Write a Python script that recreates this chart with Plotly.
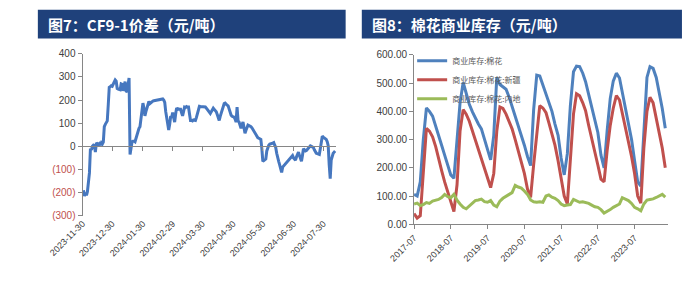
import pandas as pd
import plotly.graph_objects as go

# ---- CF9-1 spread (daily, yuan/ton) ----
spread_values = [
    -190, -215, -200, -212, -195, -150, -115, -10, -15, 0,
    5, 2, -25, 15, 10, 8, 12, 5, 15, 10,
    18, 85, 95, 105, 110, 180, 255, 258, 262, 260,
    270, 278, 287, 282, 250, 248, 245, 245, 270, 268,
    240, 255, 280, 240, 235, 265, 296, -35, -10, 20,
    22, 23, 20, 35, 55, 64, 78, 85, 120, 160,
    187, 165, 132, 150, 166, 175, 194, 185, 190, 195,
    196, 197, 198, 199, 200, 201, 202, 203, 204, 205,
    205, 200, 190, 150, 119, 100, 71, 95, 130, 125,
    146, 125, 105, 140, 166, 160, 162, 160, 160, 145,
    132, 150, 170, 168, 172, 170, 170, 140, 112, 112,
    110, 114, 112, 112, 125, 140, 160, 173, 172, 171,
    170, 172, 171, 170, 165, 158, 150, 145, 142, 150,
    160, 165, 160, 155, 150, 138, 120, 112, 130, 145,
    155, 170, 185, 187, 180, 178, 175, 160, 145, 135,
    130, 128, 126, 118, 105, 170, 110, 105, 85, 78,
    95, 105, 80, 57, 70, 85, 92, 90, 88, 85,
    80, 72, 64, 58, 50, 42, 37, 35, 32, 30,
    -10, -65, -62, -58, -55, -20, -5, 5, 10, 10,
    12, 14, 16, 5, -5, -30, -55, -65, -80, -100,
    -113, -90, -85, -80, -75, -72, -65, -58, -52, -48,
    -44, -40, -50, -55, -60, -45, -35, -25, -40, -55,
    -65, -40, -10, -15, -20, -18, -12, -5, 0, 2,
    0, -3, -5, -15, -25, -30, -32, -33, -35, -10,
    30, 44, 40, 36, 32, 30, 20, 3, -80, -140,
    -60, -40, -30, -25, -20,
]
spread_dates = pd.date_range("2023-12-01", periods=len(spread_values), freq="D")
spread_xticks = ["2023-11-30", "2023-12-30", "2024-01-30", "2024-02-29", "2024-03-30",
                 "2024-04-30", "2024-05-30", "2024-06-30", "2024-07-30"]
spread_xrange = ["2023-11-30", "2024-08-12"]
spread_yticks = [400, 300, 200, 100, 0, -100, -200, -300]

# ---- Cotton commercial inventory (monthly) ----
stock_total = [
    106, 100, 150, 300, 412, 400, 383, 350, 315, 280,
    245, 210, 175, 163, 300, 430, 502, 460, 425, 398,
    375, 355, 338, 300, 264, 228, 315, 520, 495, 485,
    478, 450, 418, 385, 350, 321, 280, 240, 208, 405,
    528, 525, 492, 462, 430, 400, 355, 315, 235, 175,
    250, 420, 540, 560, 558, 535, 505, 460, 415, 370,
    325, 245, 200, 330, 445, 507, 535, 518, 470, 415,
    355, 300, 225, 150, 135, 330, 520, 558, 552, 520,
    470, 410, 340,
]
stock_xinjiang = [
    38, 22, 30, 200, 340, 330, 310, 275, 230, 190,
    150, 115, 80, 45, 140, 330, 406, 390, 365, 330,
    298, 265, 230, 200, 168, 130, 180, 330, 415, 410,
    390, 365, 338, 300, 260, 220, 180, 125, 95, 210,
    330, 420, 412, 395, 360, 320, 280, 225, 170, 100,
    72, 250, 390, 462, 455, 430, 402, 350, 300, 255,
    210, 160, 150, 260, 350, 411, 456, 440, 395, 345,
    295, 240, 180, 100, 75, 270, 400, 450, 430, 375,
    330, 270, 200,
]
stock_inland = [
    72, 75, 66, 70, 77, 74, 82, 85, 88, 95,
    106, 98, 94, 106, 85, 72, 60, 55, 64, 75,
    84, 86, 89, 80, 78, 84, 68, 62, 82, 92,
    100, 106, 112, 138, 132, 128, 118, 106, 86, 80,
    78, 80, 78, 100, 104, 96, 92, 84, 72, 66,
    68, 70, 88, 84, 78, 80, 78, 74, 68, 62,
    60, 52, 40, 45, 52, 60, 66, 72, 94, 90,
    84, 74, 60, 55, 48, 72, 86, 88, 90, 95,
    100, 106, 96,
]
stock_months = pd.date_range("2017-07-01", periods=len(stock_total), freq="MS")
stock_names = ["商业库存:棉花", "商业库存:棉花:新疆", "商业库存:棉花:内地"]
stock_colors = ["#4F81BD", "#C0504D", "#9BBB59"]
stock_xticks = ["2017-07-01", "2018-07-01", "2019-07-01", "2020-07-01",
                "2021-07-01", "2022-07-01", "2023-07-01"]
stock_xrange = ["2017-07-01", "2024-05-25"]
stock_yticks = [0, 100, 200, 300, 400, 500, 600]

titles = ["图7：CF9-1价差（元/吨）", "图8：棉花商业库存（元/吨）"]

W, H = 700, 282
AXIS = "#868686"
TXT = "#404040"
NEG = "#C0504D"
BAR = "#1F417B"
FONT = "Liberation Sans, Arial, sans-serif"
CJK = "Noto Sans CJK SC"


def px_x(p):
    return p / W


def px_y(p):
    return 1 - p / H


left_dom_x = [px_x(50), px_x(317)]
left_dom_y = [px_y(219), px_y(50)]
right_dom_x = [px_x(399), px_x(666)]
right_dom_y = [px_y(228), px_y(51)]
spread_yrange = [min(spread_yticks), max(spread_yticks)]
stock_yrange = [min(stock_yticks), max(stock_yticks)]

# paper position of the value-zero line on the spread panel
zero_pos = left_dom_y[0] + (0 - spread_yrange[0]) / (spread_yrange[1] - spread_yrange[0]) * (
    left_dom_y[1] - left_dom_y[0])


def neg_label(v):
    if v < 0:
        return f'<span style="color:{NEG}">({abs(v)})</span>'
    return str(v)


fig = go.Figure()

# empty carrier so the zero-line category axis is drawn
fig.add_trace(go.Scatter(x=[], y=[], xaxis="x3", yaxis="y", showlegend=False,
                         hoverinfo="skip"))

fig.add_trace(go.Scatter(
    x=spread_dates, y=spread_values, mode="lines",
    line=dict(color="#4677BF", width=3), xaxis="x", yaxis="y",
    showlegend=False,
))

for name, vals, col in zip(stock_names, [stock_total, stock_xinjiang, stock_inland], stock_colors):
    fig.add_trace(go.Scatter(
        x=stock_months, y=vals, mode="lines", name=name,
        line=dict(color=col, width=3), xaxis="x2", yaxis="y2",
    ))

tick_font = dict(family=FONT, size=10, color=TXT)

fig.update_layout(
    width=W, height=H,
    margin=dict(l=0, r=0, t=0, b=0),
    paper_bgcolor="white", plot_bgcolor="white",
    xaxis=dict(
        domain=left_dom_x, anchor="y", type="date", range=spread_xrange,
        tickvals=spread_xticks, ticktext=spread_xticks, tickangle=-45,
        tickfont=dict(family=FONT, size=9, color=TXT),
        showgrid=False, zeroline=False, showline=False, ticks="",
    ),
    xaxis3=dict(
        overlaying="x", anchor="free", position=zero_pos, type="date",
        range=spread_xrange, tickvals=spread_xticks, showticklabels=False,
        showgrid=False, zeroline=False, showline=True, linecolor=AXIS, linewidth=1,
        ticks="outside", ticklen=4, tickcolor=AXIS,
    ),
    yaxis=dict(
        domain=left_dom_y, anchor="x", range=spread_yrange,
        tickvals=spread_yticks, ticktext=[neg_label(v) for v in spread_yticks],
        tickfont=tick_font, showgrid=False, zeroline=True,
        zerolinecolor=AXIS, zerolinewidth=1,
        showline=True, linecolor=AXIS, linewidth=1,
        ticks="outside", ticklen=4, tickcolor=AXIS,
    ),
    xaxis2=dict(
        domain=right_dom_x, anchor="y2", type="date", range=stock_xrange,
        tickvals=stock_xticks, tickformat="%Y-%m", tickangle=-45,
        tickfont=dict(family=FONT, size=9, color=TXT),
        showgrid=False, zeroline=False, showline=True, linecolor=AXIS, linewidth=1,
        ticks="outside", ticklen=4, tickcolor=AXIS,
    ),
    yaxis2=dict(
        domain=right_dom_y, anchor="x2", range=stock_yrange,
        tickvals=stock_yticks, tickformat=".2f",
        tickfont=tick_font, showgrid=False, zeroline=False,
        showline=True, linecolor=AXIS, linewidth=1,
        ticks="outside", ticklen=4, tickcolor=AXIS,
    ),
    legend=dict(
        x=px_x(397), y=px_y(42), xanchor="left", yanchor="top",
        bgcolor="rgba(0,0,0,0)", borderwidth=0,
        font=dict(family=CJK, size=8, color="#595959"),
        itemwidth=30, tracegroupgap=0,
    ),
    showlegend=True,
)

# title bars
bars = [(3, 327), (344, 681)]
for (x0, x1), text in zip(bars, titles):
    fig.add_shape(type="rect", xref="paper", yref="paper",
                  x0=px_x(x0), x1=px_x(x1), y0=px_y(34), y1=px_y(4),
                  fillcolor=BAR, line=dict(width=0), layer="below")
    fig.add_annotation(xref="paper", yref="paper", x=px_x(x0 + 9), y=px_y(19),
                       xanchor="left", yanchor="middle", showarrow=False,
                       text=f"<b>{text}</b>",
                       font=dict(family=CJK, size=15, color="white"))

fig.write_html("out.html")
